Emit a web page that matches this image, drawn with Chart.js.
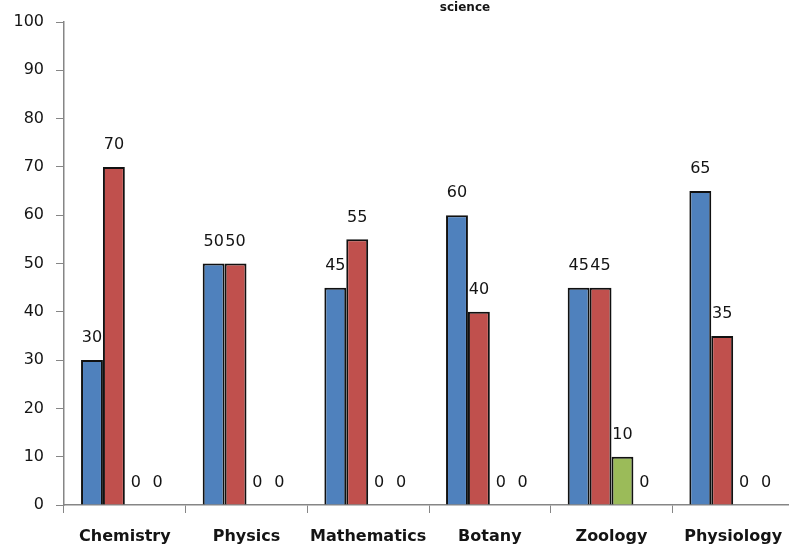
<!DOCTYPE html>
<html>
<head>
<meta charset="utf-8">
<script src="https://cdn.jsdelivr.net/npm/chart.js@4"></script>
<style>
  html, body { margin: 0; padding: 0; background: #fff; overflow: hidden; }
  #wrap { width: 800px; height: 550px; }
</style>
</head>
<body>
<div id="wrap"><canvas id="chart"></canvas></div>
<script>
// ── Data ────────────────────────────────────────────────────────────────────
const categories = ['Chemistry', 'Physics', 'Mathematics', 'Botany', 'Zoology', 'Physiology'];
const seriesA = [30, 50, 45, 60, 45, 65];
const seriesB = [70, 50, 55, 40, 45, 35];
const seriesC = [0, 0, 0, 0, 10, 0];
const seriesD = [0, 0, 0, 0, 0, 0];
const titleText = 'science';

const colors = ['#4F81BD', '#C0504D', '#9BBB59', '#8064A2'];
const axisGray = '#868686';
const textColor = '#141414';

Chart.defaults.font.family = '"DejaVu Sans", Verdana, sans-serif';
Chart.defaults.font.size = 16;
Chart.defaults.color = textColor;

// value labels above each bar + the small title
const valueLabels = {
  id: 'valueLabels',
  afterDatasetsDraw(chart) {
    const { ctx } = chart;
    ctx.save();
    ctx.font = '16px "DejaVu Sans", Verdana, sans-serif';
    ctx.fillStyle = textColor;
    ctx.textAlign = 'center';
    ctx.textBaseline = 'middle';
    chart.data.datasets.forEach((ds, i) => {
      chart.getDatasetMeta(i).data.forEach((bar, j) => {
        ctx.fillText(String(ds.data[j]), bar.x, bar.y - 22);
      });
    });
    ctx.font = 'bold 12px "DejaVu Sans", Verdana, sans-serif';
    ctx.fillText(titleText, 465, 8);
    ctx.restore();
  },
};

const mkSet = (data, i) => ({
  data,
  backgroundColor: colors[i],
  borderColor: '#111111',
  borderWidth: ctx => (ctx.raw ? 2 : 0),
  categoryPercentage: 0.72,
  barPercentage: 1.0,
});

new Chart(document.getElementById('chart'), {
  type: 'bar',
  data: {
    labels: categories,
    datasets: [seriesA, seriesB, seriesC, seriesD].map(mkSet),
  },
  options: {
    responsive: true,
    maintainAspectRatio: false,
    animation: false,
    layout: { padding: { top: 22, right: 6, left: 0, bottom: 0 } },
    plugins: {
      legend: { display: false },
      tooltip: { enabled: false },
    },
    scales: {
      x: {
        grid: { offset: true, drawOnChartArea: false, drawTicks: true, tickLength: 8, color: axisGray },
        border: { color: axisGray, width: 1.5 },
        ticks: {
          color: textColor,
          padding: 14,
          font: { weight: 'bold', size: 16 },
          maxRotation: 0,
          autoSkip: false,
        },
        afterFit: s => { s.height = 45; },
      },
      y: {
        min: 0,
        max: 100,
        grid: { drawOnChartArea: false, drawTicks: true, tickLength: 8, color: axisGray },
        border: { color: axisGray, width: 1.5 },
        ticks: { stepSize: 10, color: textColor, padding: 12 },
        afterFit: s => { s.width = 64; },
      },
    },
  },
  plugins: [valueLabels],
});
</script>
</body>
</html>
